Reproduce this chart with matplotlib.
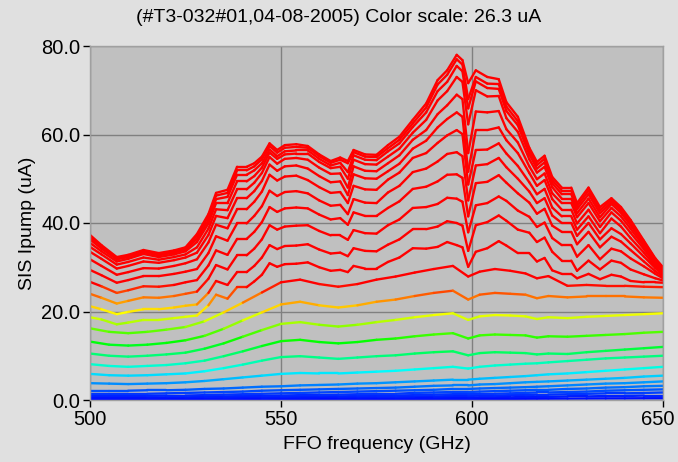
import matplotlib
matplotlib.use('Agg')

import numpy as np
import matplotlib.pyplot as plt
import matplotlib.transforms as mtransforms
from matplotlib.collections import LineCollection
from matplotlib.colors import ListedColormap, Normalize, hsv_to_rgb

# ========== data ==========
# lower pump levels: smooth, read every 5 GHz or so
freq_low_ghz = [500, 505, 510, 515, 520, 525, 530, 535, 540, 545, 550, 555, 560, 565, 570,
                575, 580, 585, 590, 595, 599, 602, 606, 610, 614, 617, 620, 625, 630, 635,
                640, 645, 650]

ipump_low = [
    [0.05, 0.05, 0.05, 0.05, 0.05, 0.06, 0.07, 0.08, 0.1, 0.1, 0.12, 0.13, 0.14, 0.15, 0.16, 0.17, 0.18, 0.2, 0.21, 0.22, 0.22, 0.23, 0.25, 0.26, 0.28, 0.29, 0.3, 0.32, 0.34, 0.36, 0.37, 0.39, 0.4],
    [0.1, 0.1, 0.1, 0.1, 0.1, 0.1, 0.2, 0.2, 0.2, 0.2, 0.3, 0.3, 0.3, 0.3, 0.4, 0.4, 0.4, 0.5, 0.5, 0.5, 0.5, 0.6, 0.6, 0.6, 0.7, 0.7, 0.7, 0.8, 0.8, 0.9, 0.9, 1.0, 1.0],
    [0.2, 0.2, 0.2, 0.2, 0.2, 0.3, 0.3, 0.4, 0.4, 0.4, 0.5, 0.5, 0.6, 0.6, 0.6, 0.7, 0.7, 0.8, 0.8, 0.9, 0.9, 1.0, 1.0, 1.1, 1.1, 1.2, 1.2, 1.3, 1.4, 1.5, 1.5, 1.6, 1.7],
    [0.3, 0.3, 0.3, 0.3, 0.3, 0.4, 0.4, 0.5, 0.6, 0.6, 0.7, 0.8, 0.8, 0.8, 0.9, 1.0, 1.0, 1.1, 1.2, 1.3, 1.3, 1.4, 1.4, 1.5, 1.6, 1.7, 1.7, 1.8, 1.9, 2.1, 2.2, 2.3, 2.4],
    [0.5, 0.5, 0.5, 0.5, 0.6, 0.6, 0.7, 0.8, 0.9, 0.9, 1.0, 1.1, 1.1, 1.2, 1.3, 1.4, 1.4, 1.6, 1.7, 1.8, 1.8, 1.9, 2.0, 2.1, 2.2, 2.3, 2.3, 2.5, 2.6, 2.8, 2.9, 3.1, 3.2],
    [0.9, 0.9, 0.9, 0.9, 1.0, 1.0, 1.1, 1.2, 1.3, 1.4, 1.5, 1.6, 1.7, 1.8, 1.9, 2.0, 2.1, 2.2, 2.3, 2.5, 2.5, 2.6, 2.7, 2.8, 2.9, 3.0, 3.1, 3.3, 3.5, 3.7, 3.8, 4.0, 4.2],
    [1.4, 1.4, 1.4, 1.4, 1.5, 1.6, 1.7, 1.8, 1.9, 2.1, 2.2, 2.3, 2.4, 2.5, 2.6, 2.7, 2.8, 3.0, 3.2, 3.3, 3.3, 3.5, 3.6, 3.8, 4.0, 4.1, 4.2, 4.4, 4.6, 4.8, 5.0, 5.3, 5.5],
    [2.1, 2.1, 2.1, 2.2, 2.2, 2.3, 2.5, 2.6, 2.8, 3.0, 3.1, 3.3, 3.4, 3.5, 3.7, 3.8, 4.0, 4.2, 4.4, 4.6, 4.6, 4.8, 5.0, 5.2, 5.4, 5.6, 5.8, 6.0, 6.3, 6.6, 6.9, 7.2, 7.5],
    [3.8, 3.7, 3.6, 3.7, 3.8, 4.0, 4.3, 4.7, 5.1, 5.5, 5.9, 6.1, 6.0, 6.0, 6.2, 6.4, 6.6, 6.9, 7.2, 7.5, 7.1, 7.5, 7.8, 8.0, 8.2, 8.3, 8.5, 8.8, 9.1, 9.4, 9.6, 9.8, 10.0],
    [5.9, 5.6, 5.5, 5.6, 5.8, 6.0, 6.5, 7.2, 8.0, 8.9, 9.7, 9.9, 9.6, 9.3, 9.6, 9.9, 10.1, 10.5, 10.8, 11.0, 10.1, 10.6, 10.8, 10.7, 10.6, 10.3, 10.5, 10.4, 10.8, 11.1, 11.4, 11.7, 12.0],
    [8.1, 7.7, 7.5, 7.7, 7.9, 8.3, 8.9, 9.9, 11.0, 12.2, 13.3, 13.6, 13.1, 12.8, 13.1, 13.6, 13.9, 14.4, 14.8, 15.1, 13.9, 14.6, 14.8, 14.7, 14.6, 14.1, 14.4, 14.3, 14.5, 14.7, 14.9, 15.2, 15.4],
    [10.5, 10.0, 9.8, 10.0, 10.3, 10.7, 11.6, 12.8, 14.3, 15.8, 17.2, 17.6, 17.0, 16.6, 17.0, 17.6, 18.1, 18.7, 19.2, 19.6, 18.1, 18.9, 19.2, 19.1, 18.9, 18.3, 18.7, 18.5, 18.8, 19.0, 19.2, 19.4, 19.6],
    [13.2, 12.5, 12.3, 12.5, 12.9, 13.5, 14.5, 16.1, 18.0, 19.8, 21.6, 22.2, 21.4, 20.9, 21.4, 22.2, 22.7, 23.5, 24.2, 24.7, 22.7, 23.8, 24.2, 24.0, 23.8, 23.0, 23.5, 23.2, 23.4, 23.4, 23.4, 23.2, 23.1],
    [16.2, 15.4, 15.1, 15.4, 15.9, 16.5, 17.8, 19.8, 22.0, 24.3, 26.6, 27.2, 26.2, 25.6, 26.2, 27.2, 27.9, 28.8, 29.6, 30.3, 27.9, 29.0, 29.6, 29.2, 28.6, 27.5, 28.0, 25.8, 26.0, 25.8, 25.8, 25.6, 25.5],
]

# upper (saturating) pump levels: jagged, read on a finer grid
freq_high_ghz = [500, 503, 507, 510, 514, 518, 522, 525, 528, 531, 533, 536, 538.5, 541, 543,
                 545, 547, 549, 551, 554, 557, 560, 563, 565.5, 567.5, 569, 572, 575, 578, 581,
                 584.5, 588, 591, 593.5, 596, 597.5, 599, 601, 604, 607, 609, 612, 615, 617, 619,
                 621, 623.5, 626, 627.5, 630.5, 633.5, 636.5, 639, 641.5, 645, 648, 650]

ipump_high = [
    [18.7, 18.2, 17.1, 17.5, 18.1, 18.1, 18.5, 18.8, 19.1, 21.4, 23.8, 22.9, 25.5, 25.5, 26.8, 28.3, 30.9, 30.1, 30.7, 30.8, 31.1, 30.0, 29.2, 29.4, 28.9, 30.3, 29.7, 29.7, 31.2, 32.2, 34.3, 34.2, 34.6, 35.7, 35.0, 34.5, 30.1, 33.5, 34.3, 35.9, 34.9, 33.2, 33.2, 31.3, 32.1, 29.3, 28.5, 28.5, 27.5, 28.5, 27.3, 28.3, 27.9, 26.9, 26.6, 26.6, 26.5],
    [21.2, 20.5, 19.4, 19.9, 20.5, 20.5, 20.9, 21.3, 21.6, 24.2, 26.9, 26.0, 28.9, 28.9, 30.3, 32.2, 35.0, 34.1, 34.8, 34.9, 35.2, 34.0, 33.1, 33.3, 32.5, 34.3, 33.7, 33.6, 35.1, 36.3, 38.6, 38.6, 39.2, 40.4, 40.0, 39.4, 33.7, 39.5, 40.2, 41.7, 40.5, 38.5, 37.8, 35.7, 36.7, 33.5, 31.5, 31.5, 29.2, 31.5, 29.5, 31.5, 31.0, 29.5, 28.4, 27.5, 27.0],
    [24.0, 23.1, 21.8, 22.4, 23.2, 23.1, 23.5, 24.0, 24.5, 27.4, 30.5, 29.5, 32.7, 32.7, 34.2, 36.3, 39.5, 38.5, 39.2, 39.4, 39.5, 38.2, 37.2, 37.2, 36.2, 38.4, 37.7, 37.6, 39.5, 40.8, 43.4, 43.6, 44.3, 45.7, 45.5, 44.8, 37.9, 44.0, 44.5, 46.0, 45.0, 42.8, 41.4, 39.1, 40.1, 36.6, 35.0, 35.0, 32.4, 35.0, 31.8, 34.2, 33.6, 32.0, 30.2, 28.5, 27.5],
    [26.7, 25.7, 24.2, 24.8, 25.7, 25.6, 26.0, 26.6, 27.1, 30.4, 33.8, 32.8, 36.4, 36.4, 38.0, 40.2, 43.6, 42.5, 43.3, 43.5, 43.3, 41.9, 40.8, 41.1, 39.6, 42.4, 41.6, 41.6, 43.4, 44.9, 47.7, 48.2, 49.4, 50.9, 51.0, 50.2, 41.5, 49.0, 49.3, 50.8, 49.1, 46.7, 44.6, 42.1, 43.2, 39.4, 38.0, 38.0, 35.2, 38.0, 34.5, 36.9, 35.8, 33.9, 31.3, 29.1, 27.9],
    [29.4, 28.2, 26.5, 27.1, 28.0, 28.0, 28.5, 29.0, 29.6, 33.2, 37.0, 36.0, 39.9, 39.9, 41.6, 43.8, 47.3, 46.1, 47.0, 47.2, 46.7, 45.1, 43.9, 44.1, 42.0, 45.4, 44.6, 44.5, 46.9, 48.4, 51.5, 52.3, 53.9, 55.6, 56.0, 55.1, 45.1, 53.0, 53.3, 54.7, 52.6, 50.0, 47.1, 44.5, 45.6, 41.7, 40.0, 40.0, 37.1, 40.0, 36.3, 38.8, 37.5, 35.4, 32.4, 29.8, 28.3],
    [31.8, 30.3, 28.3, 28.9, 29.8, 29.7, 30.3, 30.9, 31.8, 35.6, 39.6, 38.8, 43.1, 43.1, 44.8, 47.1, 50.9, 49.6, 50.5, 50.7, 49.7, 48.1, 46.8, 47.0, 44.5, 48.4, 47.6, 47.5, 49.8, 51.4, 54.7, 55.8, 58.1, 59.8, 61.0, 60.1, 48.7, 56.5, 56.6, 58.0, 55.7, 52.9, 49.2, 46.5, 47.7, 43.5, 41.5, 41.5, 38.5, 41.5, 37.7, 41.0, 39.2, 36.6, 33.3, 30.2, 28.6],
    [33.5, 31.9, 29.7, 30.3, 31.3, 31.0, 31.6, 32.2, 33.3, 37.3, 41.6, 41.1, 45.6, 45.6, 47.2, 49.5, 53.2, 51.8, 52.8, 53.0, 52.3, 50.6, 49.2, 49.4, 46.3, 51.0, 50.1, 50.0, 51.7, 53.4, 56.8, 58.6, 61.6, 63.5, 65.0, 64.0, 51.6, 61.0, 61.0, 61.6, 58.7, 55.8, 51.3, 48.4, 49.7, 45.4, 43.0, 43.0, 39.9, 43.0, 39.1, 42.4, 40.5, 37.8, 34.1, 30.7, 28.9],
    [34.6, 32.9, 30.6, 31.2, 32.2, 31.7, 32.3, 32.9, 34.5, 38.7, 43.1, 42.9, 47.6, 47.6, 49.1, 51.3, 54.9, 53.4, 54.5, 54.7, 54.3, 52.5, 51.1, 51.2, 48.0, 52.8, 51.8, 51.7, 53.5, 55.3, 58.8, 61.0, 64.6, 66.6, 69.0, 68.0, 55.8, 65.2, 65.0, 65.3, 61.2, 58.2, 52.8, 49.9, 51.2, 46.7, 44.5, 44.5, 41.3, 44.5, 40.4, 43.4, 41.5, 38.7, 34.7, 31.0, 29.2],
    [35.5, 33.6, 31.3, 31.9, 33.0, 32.3, 32.9, 33.6, 35.7, 39.9, 44.5, 44.5, 49.4, 49.4, 50.6, 52.5, 55.9, 54.5, 55.5, 55.7, 55.7, 53.8, 52.4, 52.7, 50.0, 54.3, 53.3, 53.2, 55.0, 56.8, 60.4, 63.3, 67.7, 69.8, 73.0, 71.9, 62.3, 70.0, 68.6, 68.7, 63.7, 60.6, 54.4, 51.4, 52.7, 48.1, 45.5, 45.5, 42.2, 45.5, 41.3, 44.3, 42.3, 39.5, 35.2, 31.4, 29.5],
    [36.3, 34.2, 31.8, 32.3, 33.4, 32.7, 33.3, 34.0, 36.4, 40.7, 45.4, 45.9, 50.9, 50.9, 51.9, 53.5, 56.6, 55.1, 56.2, 56.4, 56.4, 54.5, 53.0, 53.6, 51.5, 55.3, 54.3, 54.2, 56.2, 58.0, 61.7, 65.0, 69.8, 71.9, 75.5, 74.3, 65.9, 72.0, 70.5, 70.3, 65.3, 62.1, 55.5, 52.3, 53.7, 49.0, 46.5, 46.5, 43.1, 46.5, 42.2, 44.8, 42.9, 40.0, 35.5, 31.6, 29.7],
    [36.8, 34.7, 32.1, 32.6, 33.7, 33.0, 33.6, 34.3, 37.1, 41.5, 46.2, 46.8, 51.9, 51.9, 52.8, 54.4, 57.4, 55.9, 57.0, 57.2, 57.0, 55.1, 53.6, 54.3, 53.5, 56.0, 55.0, 54.9, 56.9, 58.8, 62.5, 66.1, 71.3, 73.5, 77.0, 75.8, 68.0, 73.0, 71.5, 71.4, 66.3, 63.0, 56.3, 53.1, 54.5, 49.7, 47.3, 47.3, 43.8, 47.3, 42.9, 45.3, 43.3, 40.4, 35.8, 31.8, 29.85],
    [37.3, 35.0, 32.3, 32.8, 33.9, 33.2, 33.8, 34.5, 37.5, 42.0, 46.8, 47.5, 52.7, 52.7, 53.5, 55.0, 58.0, 56.5, 57.6, 57.8, 57.4, 55.5, 54.0, 54.8, 54.0, 56.5, 55.5, 55.4, 57.6, 59.5, 63.3, 67.0, 72.3, 74.5, 78.0, 76.8, 71.6, 74.5, 73.0, 72.5, 67.3, 64.0, 57.0, 53.8, 55.2, 50.4, 48.0, 48.0, 44.5, 48.0, 43.6, 45.6, 43.6, 40.7, 36.0, 32.0, 30.0],
]

color_scale_ua = 26.3
x_ticks = [500, 550, 600, 650]
y_ticks = [0, 20, 40, 60, 80]
title_text = '(#T3-032#01,04-08-2005) Color scale: 26.3 uA'

# ========== colour map: blue (0) -> red (color scale), red above ==========
hue = np.linspace(240 / 360, 0, 256)
rgb = hsv_to_rgb(np.column_stack([hue, np.ones(256), np.ones(256)]))
cmap = ListedColormap(rgb)
cmap.set_over('#ff0000')
norm = Normalize(vmin=0, vmax=color_scale_ua)

plt.rcParams['font.family'] = ['Liberation Sans', 'DejaVu Sans']

fig = plt.figure(figsize=(6.78, 4.62), dpi=100, facecolor='#e0e0e0')
ax = fig.add_axes([90 / 678, 1 - 400 / 462, 573 / 678, 354 / 462])
ax.set_facecolor('#c0c0c0')


def draw_curves(freqs, rows):
    x = np.array(freqs, dtype=float)
    for row in rows:
        y = np.array(row, dtype=float)
        pts = np.column_stack([x, y]).reshape(-1, 1, 2)
        segs = np.concatenate([pts[:-1], pts[1:]], axis=1)
        lc = LineCollection(segs, cmap=cmap, norm=norm, linewidths=1.7,
                            capstyle='round', joinstyle='round')
        lc.set_array((y[:-1] + y[1:]) / 2)   # colour follows the current value
        ax.add_collection(lc)


draw_curves(freq_low_ghz, ipump_low)
draw_curves(freq_high_ghz, ipump_high)

ax.set_xlim(500, 650)
ax.set_ylim(0, 80)
ax.set_xticks(x_ticks)
ax.set_yticks(y_ticks)
ax.set_yticklabels([f'{v:.1f}' for v in y_ticks])
ax.grid(True, color='#808080', linewidth=1)
ax.set_axisbelow(True)
for s in ax.spines.values():
    s.set_color('#a0a0a0')
    s.set_linewidth(1)
ax.tick_params(direction='out', length=5, width=1, colors='black',
               labelsize=14.5, pad=2)

# keep the last x label inside the figure edge
last_lbl = ax.get_xticklabels()[-1]
last_lbl.set_transform(last_lbl.get_transform() +
                       mtransforms.ScaledTranslation(-5 / 100, 0, fig.dpi_scale_trans))

ax.set_xlabel('FFO frequency (GHz)', fontsize=14, labelpad=5)
ax.set_ylabel('SIS Ipump (uA)', fontsize=14, labelpad=4)
fig.text(0.5, 1 - 18 / 462, title_text, ha='center', va='center', fontsize=14)

fig.savefig('out.png', dpi=100, facecolor=fig.get_facecolor())
